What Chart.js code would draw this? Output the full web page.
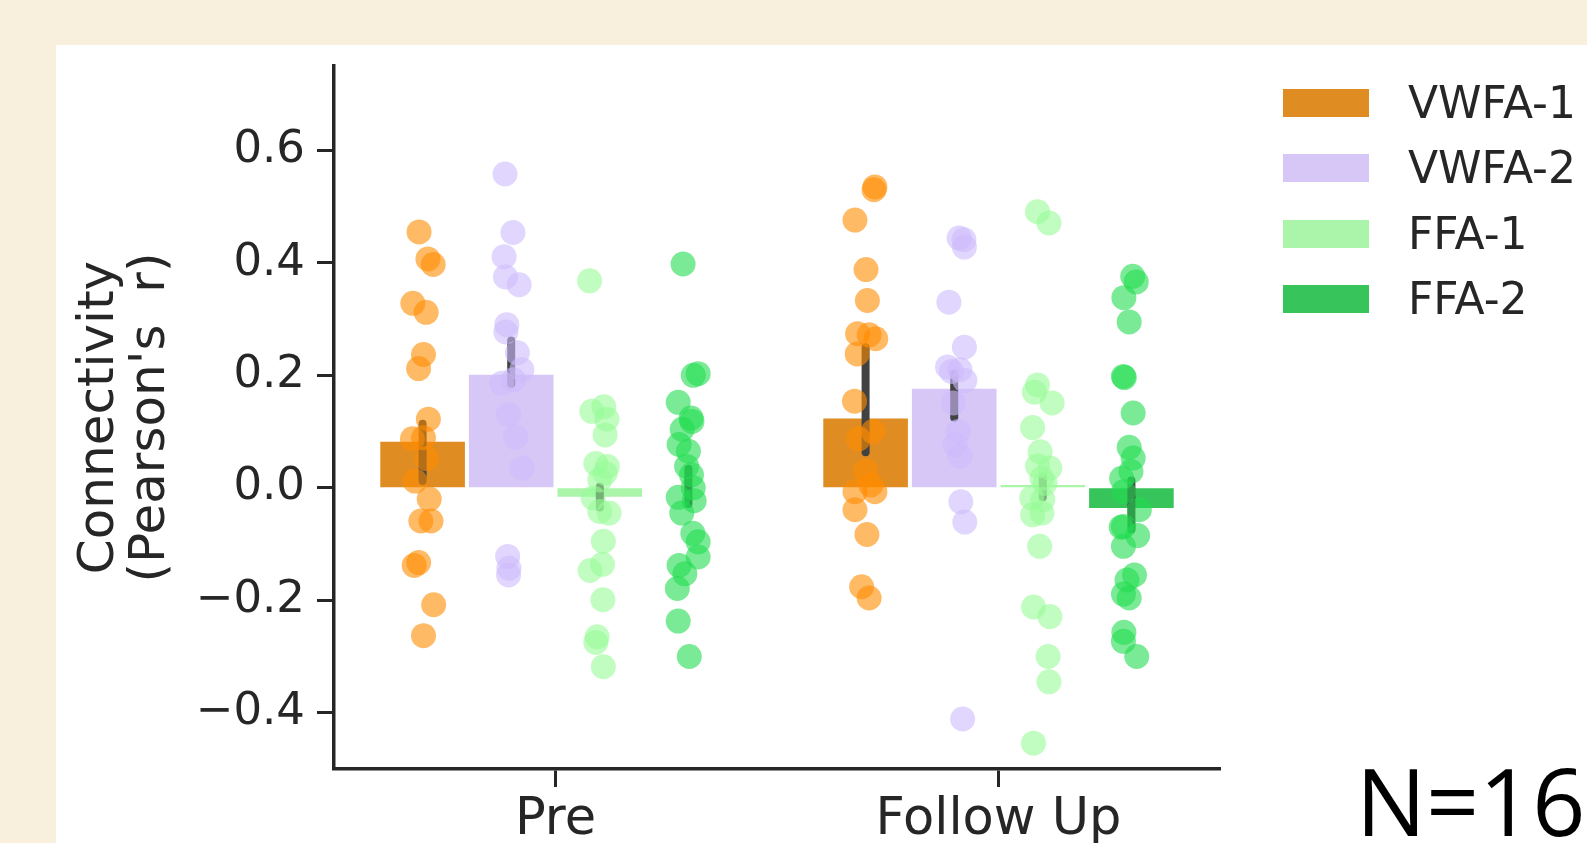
<!DOCTYPE html>
<html>
<head>
<meta charset="utf-8">
<title>Connectivity by region</title>
<script src="https://cdn.jsdelivr.net/npm/chart.js@4.4.1/dist/chart.umd.min.js"></script>
<style>
  html, body { margin: 0; padding: 0; width: 1587px; height: 843px; overflow: hidden; background: #f8f0dd; }
  #panel { position: absolute; left: 56px; top: 45px; right: 0; bottom: 0; background: #ffffff; }
  #chart { position: absolute; left: 0; top: 0; }
  .legend { position: absolute; left: 1283px; top: 89px; font-family: 'DejaVu Sans', sans-serif; font-size: 44px; color: #262626; }
  .legend .row { position: absolute; left: 0; height: 28px; white-space: nowrap; }
  .legend .patch { position: absolute; left: 0; top: 0; width: 86px; height: 28px; }
  .legend .label { position: absolute; left: 125px; top: 14px; transform: translateY(-50%); line-height: 1; }
  #count { position: absolute; left: 1356px; top: 754px; font-family: 'Open Sans', sans-serif; font-size: 93px; line-height: 1; color: #000; white-space: nowrap; }
</style>
</head>
<body>
<div id="panel"></div>
<canvas id="chart" width="1587" height="843"></canvas>
<div class="legend" id="legend"></div>
<div id="count">N=16</div>
<script>
// Sessions and regions of interest
const categories = ['Pre', 'Follow Up'];
const regions = ['VWFA-1', 'VWFA-2', 'FFA-1', 'FFA-2'];
const yTickValues = [-0.4, -0.2, 0.0, 0.2, 0.4, 0.6];

// Group means (bar heights) per region, for each session
const meanPre = [0.082, 0.201, -0.016, 0.0];
const meanFollowUp = [0.123, 0.176, 0.005, -0.036];

// Confidence intervals per region, for each session
const ciLowPre = [0.012, 0.185, -0.035, -0.029];
const ciHighPre = [0.114, 0.262, 0.002, 0.034];
const ciLowFollowUp = [0.063, 0.125, -0.017, -0.074];
const ciHighFollowUp = [0.250, 0.203, 0.019, 0.013];

// Individual subject correlations and their strip jitter (session units)
const preVWFA1 = [0.455, 0.407, 0.397, 0.328, 0.312, 0.237, 0.212, 0.122, 0.087, 0.089, 0.052, 0.012, -0.020, -0.059, -0.059, -0.133, -0.138, -0.208, -0.263];
const preVWFA1Jitter = [-0.008, 0.012, 0.024, -0.022, 0.008, 0.002, -0.009, 0.013, -0.023, 0.002, 0.009, -0.017, 0.015, -0.004, 0.019, -0.009, -0.019, 0.025, 0.002];
const preVWFA2 = [0.558, 0.454, 0.411, 0.375, 0.361, 0.290, 0.277, 0.240, 0.210, 0.186, 0.192, 0.130, 0.090, 0.035, -0.122, -0.143, -0.155];
const preVWFA2Jitter = [-0.014, 0.004, -0.016, -0.013, 0.018, -0.010, -0.012, 0.014, 0.024, -0.021, 0.005, -0.006, 0.010, 0.025, -0.008, -0.005, -0.006];
const preFFA1 = [0.368, 0.136, 0.144, 0.122, 0.094, 0.043, 0.038, 0.026, 0.014, -0.018, -0.042, -0.045, -0.095, -0.136, -0.147, -0.199, -0.265, -0.275, -0.318];
const preFFA1Jitter = [-0.023, -0.018, 0.009, 0.016, 0.012, -0.009, 0.017, 0.012, 0.000, -0.015, 0.000, 0.021, 0.008, 0.006, -0.022, 0.007, -0.006, -0.009, 0.008];
const preFFA2 = [0.398, 0.200, 0.203, 0.152, 0.124, 0.118, 0.104, 0.077, 0.065, 0.038, 0.023, 0.000, -0.017, -0.023, -0.045, -0.081, -0.096, -0.123, -0.138, -0.153, -0.179, -0.237, -0.300];
const preFFA2Jitter = [-0.012, 0.011, 0.022, -0.023, 0.006, 0.008, -0.014, -0.021, 0.000, -0.004, 0.007, 0.011, -0.023, 0.013, -0.015, 0.010, 0.022, 0.022, -0.021, -0.008, -0.025, -0.023, 0.002];

const followUpVWFA1 = [0.535, 0.530, 0.476, 0.388, 0.333, 0.274, 0.272, 0.265, 0.238, 0.154, 0.100, 0.087, 0.030, 0.005, -0.007, -0.007, -0.039, -0.083, -0.176, -0.196];
const followUpVWFA1Jitter = [0.021, 0.019, -0.024, 0.001, 0.004, -0.018, 0.008, 0.023, -0.019, -0.025, 0.017, -0.016, 0.000, 0.012, -0.024, 0.021, -0.024, 0.003, -0.009, 0.008];
const followUpVWFA2 = [0.444, 0.441, 0.428, 0.330, 0.250, 0.215, 0.210, 0.207, 0.191, 0.151, 0.100, 0.077, 0.056, -0.025, -0.061, -0.411];
const followUpVWFA2Jitter = [0.011, 0.022, 0.023, -0.012, 0.023, -0.015, 0.013, -0.006, 0.024, -0.002, 0.009, 0.002, 0.013, 0.015, 0.024, 0.019];
const followUpFFA1 = [0.491, 0.471, 0.183, 0.170, 0.151, 0.107, 0.064, 0.039, 0.035, 0.017, 0.008, -0.018, -0.021, -0.048, -0.045, -0.104, -0.212, -0.229, -0.300, -0.345, -0.454];
const followUpFFA1Jitter = [-0.012, 0.014, -0.012, -0.019, 0.021, -0.023, -0.006, -0.012, 0.016, -0.002, 0.005, -0.025, 0.000, -0.023, -0.002, -0.007, -0.021, 0.016, 0.012, 0.014, -0.021];
const followUpFFA2 = [0.376, 0.366, 0.338, 0.295, 0.198, 0.196, 0.133, 0.072, 0.053, 0.029, 0.017, -0.007, -0.039, -0.069, -0.070, -0.085, -0.104, -0.155, -0.164, -0.189, -0.196, -0.257, -0.273, -0.300];
const followUpFFA2Jitter = [0.003, 0.011, -0.017, -0.005, -0.018, -0.016, 0.004, -0.005, 0.004, -0.001, -0.022, -0.018, 0.018, -0.018, -0.023, 0.014, -0.018, 0.007, -0.010, -0.018, -0.005, -0.017, -0.018, 0.012];

// Styling
const barColors = ['#df8c23', '#d6c7f7', '#abf5ab', '#37c45a'];
const pointColors = ['rgba(255,140,0,0.6)', 'rgba(205,187,252,0.6)', 'rgba(152,251,152,0.6)', 'rgba(33,220,80,0.6)'];
const inkColor = '#262626';
const fontFamily = "'DejaVu Sans', sans-serif";

const meansBySession = [meanPre, meanFollowUp];
const ciLowBySession = [ciLowPre, ciLowFollowUp];
const ciHighBySession = [ciHighPre, ciHighFollowUp];
const pointsBySession = [
  [[preVWFA1, preVWFA1Jitter], [preVWFA2, preVWFA2Jitter], [preFFA1, preFFA1Jitter], [preFFA2, preFFA2Jitter]],
  [[followUpVWFA1, followUpVWFA1Jitter], [followUpVWFA2, followUpVWFA2Jitter], [followUpFFA1, followUpFFA1Jitter], [followUpFFA2, followUpFFA2Jitter]]
];

// Each session occupies one unit on the x axis; the four regions share 0.8 of it
const groupWidth = 0.8;
const slot = groupWidth / regions.length;
const hueCenter = (c, h) => c + (h - (regions.length - 1) / 2) * slot;

const barDatasets = regions.map((name, h) => ({
  type: 'bar',
  label: name,
  data: meansBySession.map((m, c) => ({ x: hueCenter(c, h), y: m[h] })),
  backgroundColor: barColors[h],
  borderWidth: 0,
  grouped: false,
  categoryPercentage: 1,
  barPercentage: 0.955,
  order: 2
}));

const stripDatasets = regions.map((name, h) => {
  const pts = [];
  pointsBySession.forEach((session, c) => {
    const [vals, jit] = session[h];
    vals.forEach((v, i) => pts.push({ x: hueCenter(c, h) + jit[i], y: v }));
  });
  return {
    type: 'scatter',
    label: name + ' subjects',
    data: pts,
    backgroundColor: pointColors[h],
    borderWidth: 0,
    pointRadius: 12.5,
    pointHoverRadius: 12.5,
    showLine: false,
    order: 1
  };
});

// Confidence interval lines drawn over the bars, under the subject points
const errorBars = {
  id: 'errorBars',
  afterDatasetDraw(chart, args) {
    if (args.index !== 0) return;
    const ctx = chart.ctx;
    const y = chart.scales.y;
    ctx.save();
    ctx.strokeStyle = '#424242';
    ctx.lineWidth = 8;
    ctx.lineCap = 'round';
    regions.forEach((name, h) => {
      chart.getDatasetMeta(h).data.forEach((bar, c) => {
        ctx.beginPath();
        ctx.moveTo(bar.x, y.getPixelForValue(ciLowBySession[c][h]));
        ctx.lineTo(bar.x, y.getPixelForValue(ciHighBySession[c][h]));
        ctx.stroke();
      });
    });
    ctx.restore();
  }
};

new Chart(document.getElementById('chart'), {
  type: 'bar',
  data: { datasets: [...barDatasets, ...stripDatasets] },
  plugins: [errorBars],
  options: {
    responsive: false,
    animation: false,
    events: [],
    layout: { padding: { left: 0, top: 66, right: 367, bottom: 0 } },
    plugins: { legend: { display: false }, tooltip: { enabled: false } },
    scales: {
      x: {
        type: 'linear',
        min: -0.5,
        max: categories.length - 0.5,
        offset: false,
        border: { display: true, color: inkColor, width: 3.5 },
        grid: { display: true, drawOnChartArea: false, drawTicks: true, tickLength: 18, tickWidth: 3, tickColor: inkColor, offset: false },
        afterBuildTicks: s => { s.ticks = categories.map((name, i) => ({ value: i })); },
        ticks: {
          color: inkColor,
          font: { family: fontFamily, size: 51 },
          padding: 3,
          maxRotation: 0,
          autoSkip: false,
          callback: v => categories[v]
        },
        afterFit: s => { s.height = 74; }
      },
      y: {
        type: 'linear',
        min: -0.5,
        max: 0.75,
        border: { display: true, color: inkColor, width: 3.5 },
        grid: { display: true, drawOnChartArea: false, drawTicks: true, tickLength: 17, tickWidth: 3, tickColor: inkColor },
        afterBuildTicks: s => { s.ticks = yTickValues.map(v => ({ value: v })); },
        ticks: {
          color: inkColor,
          font: { family: fontFamily, size: 45 },
          padding: 12,
          callback: v => (v < 0 ? '\u2212' : '') + Math.abs(v).toFixed(1)
        },
        title: {
          display: true,
          text: ['Connectivity', "(Pearson's  r)"],
          color: inkColor,
          font: { family: fontFamily, size: 50, lineHeight: 1.02 },
          padding: { top: 75, bottom: 0 }
        },
        afterFit: s => { s.width = 334; }
      }
    }
  }
});

// Legend built from the region names and bar colours
const legend = document.getElementById('legend');
regions.forEach((name, h) => {
  const row = document.createElement('div');
  row.className = 'row';
  row.style.top = (h * 65.3) + 'px';
  const patch = document.createElement('div');
  patch.className = 'patch';
  patch.style.background = barColors[h];
  const label = document.createElement('div');
  label.className = 'label';
  label.textContent = name;
  row.appendChild(patch);
  row.appendChild(label);
  legend.appendChild(row);
});
</script>
</body>
</html>
